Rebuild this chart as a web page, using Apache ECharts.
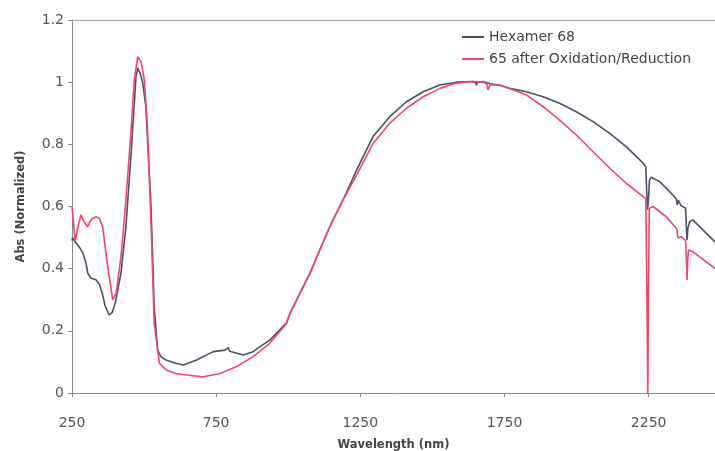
<!DOCTYPE html>
<html><head><meta charset="utf-8">
<script src="https://cdn.jsdelivr.net/npm/echarts@6/dist/echarts.min.js"></script>
<style>html,body{margin:0;padding:0;background:#fff}#c{width:715px;height:451px}</style>
</head><body><div id="c"></div>
<script>
const seriesNames = ['Hexamer 68', '65 after Oxidation/Reduction'];
const xTicks = [250, 750, 1250, 1750, 2250];
const hexamer = [[250,0.49],[252,0.50],[262,0.485],[275,0.47],[288,0.45],[298,0.42],[305,0.385],[315,0.37],[333,0.364],[345,0.35],[355,0.32],[365,0.28],[379,0.251],[390,0.26],[400,0.29],[420,0.386],[437,0.535],[455,0.77],[472,1.018],[478,1.045],[486,1.03],[495,1.0],[506,0.921],[524,0.60],[535,0.278],[547,0.138],[558,0.117],[576,0.106],[610,0.096],[636,0.09],[682,0.106],[740,0.133],[780,0.138],[792,0.146],[796,0.135],[803,0.133],[844,0.122],[878,0.133],[902,0.149],[936,0.17],[994,0.226],[1006,0.256],[1075,0.385],[1144,0.535],[1190,0.621],[1237,0.717],[1294,0.825],[1352,0.889],[1410,0.937],[1468,0.969],[1526,0.991],[1583,1.0],[1641,1.002],[1650,0.998],[1653,0.99],[1656,1.0],[1676,1.002],[1699,0.995],[1734,0.99],[1768,0.98],[1826,0.969],[1884,0.953],[1941,0.932],[1999,0.905],[2057,0.873],[2115,0.835],[2173,0.792],[2219,0.75],[2231,0.739],[2240,0.728],[2243,0.65],[2246,0.59],[2249,0.62],[2253,0.685],[2259,0.694],[2288,0.68],[2334,0.637],[2346,0.625],[2349,0.605],[2353,0.62],[2363,0.602],[2378,0.595],[2381,0.53],[2383,0.492],[2386,0.53],[2392,0.551],[2403,0.557],[2479,0.487],[2500,0.47]];
const oxred = [[250,0.60],[261,0.49],[272,0.54],[281,0.573],[292,0.55],[304,0.535],[318,0.56],[333,0.567],[345,0.562],[356,0.535],[374,0.406],[391,0.30],[403,0.32],[420,0.439],[437,0.621],[455,0.846],[466,1.007],[478,1.082],[489,1.066],[501,1.007],[512,0.846],[524,0.547],[535,0.225],[553,0.096],[576,0.074],[610,0.063],[648,0.058],[705,0.052],[763,0.063],[821,0.085],[878,0.117],[936,0.16],[994,0.224],[1006,0.256],[1075,0.385],[1144,0.535],[1190,0.621],[1237,0.701],[1294,0.803],[1352,0.868],[1410,0.916],[1468,0.953],[1526,0.98],[1583,0.997],[1641,1.002],[1676,1.0],[1688,0.995],[1693,0.975],[1699,0.991],[1734,0.991],[1768,0.98],[1826,0.959],[1884,0.921],[1941,0.878],[1999,0.83],[2057,0.776],[2115,0.723],[2173,0.674],[2231,0.632],[2240,0.625],[2244,0.3],[2247,0.0],[2249,0.3],[2252,0.594],[2265,0.60],[2311,0.567],[2346,0.53],[2349,0.52],[2351,0.499],[2363,0.503],[2378,0.49],[2382,0.40],[2383,0.364],[2385,0.42],[2388,0.46],[2403,0.455],[2479,0.401],[2500,0.386]];

const chart = echarts.init(document.getElementById('c'), null, {renderer: 'canvas'});
const font = 'DejaVu Sans, sans-serif';
chart.setOption({
  animation: false,
  backgroundColor: '#fff',
  grid: {left: 72, top: 20, right: 0, bottom: 58, show: false, outerBoundsMode: 'none', containLabel: false},
  legend: {
    orient: 'vertical', left: 457, top: 25, itemGap: 8, itemWidth: 22, itemHeight: 2,
    icon: 'rect', textStyle: {fontFamily: font, fontSize: 14, color: '#444'},
    data: seriesNames
  },
  xAxis: [{
    type: 'value', min: 250, max: 2480,
    name: 'Wavelength (nm)', nameLocation: 'middle', nameGap: 46,
    nameTextStyle: {fontFamily: font, fontSize: 11.5, fontWeight: 'bold', color: '#444'},
    axisLine: {lineStyle: {color: '#888'}},
    axisTick: {show: true, length: 4, customValues: xTicks, lineStyle: {color: '#888'}},
    axisLabel: {customValues: xTicks, margin: 23, fontFamily: font, fontSize: 14, color: '#555',
      formatter: v => String(v)},
    splitLine: {show: false}
  }, {
    type: 'value', position: 'top', min: 250, max: 2480,
    axisLine: {show: true, lineStyle: {color: '#a0a0a0'}},
    axisTick: {show: false}, axisLabel: {show: false}, splitLine: {show: false}
  }],
  yAxis: {
    type: 'value', min: 0, max: 1.2, interval: 0.2,
    name: 'Abs (Normalized)', nameLocation: 'middle', nameGap: 45,
    nameTextStyle: {fontFamily: font, fontSize: 11.5, fontWeight: 'bold', color: '#444'},
    axisLine: {show: true, lineStyle: {color: '#888'}},
    axisTick: {show: true, length: 4, lineStyle: {color: '#888'}},
    axisLabel: {margin: 8, fontFamily: font, fontSize: 14, color: '#555',
      formatter: v => String(+v.toFixed(1))},
    splitLine: {show: false}
  },
  series: [
    {name: seriesNames[0], type: 'line', data: hexamer, showSymbol: false,
     lineStyle: {color: '#4a5068', width: 1.6}, itemStyle: {color: '#4a5068'}, z: 2},
    {name: seriesNames[1], type: 'line', data: oxred, showSymbol: false,
     lineStyle: {color: '#f5456e', width: 1.6}, itemStyle: {color: '#f5456e'}, z: 3}
  ]
});
</script></body></html>
